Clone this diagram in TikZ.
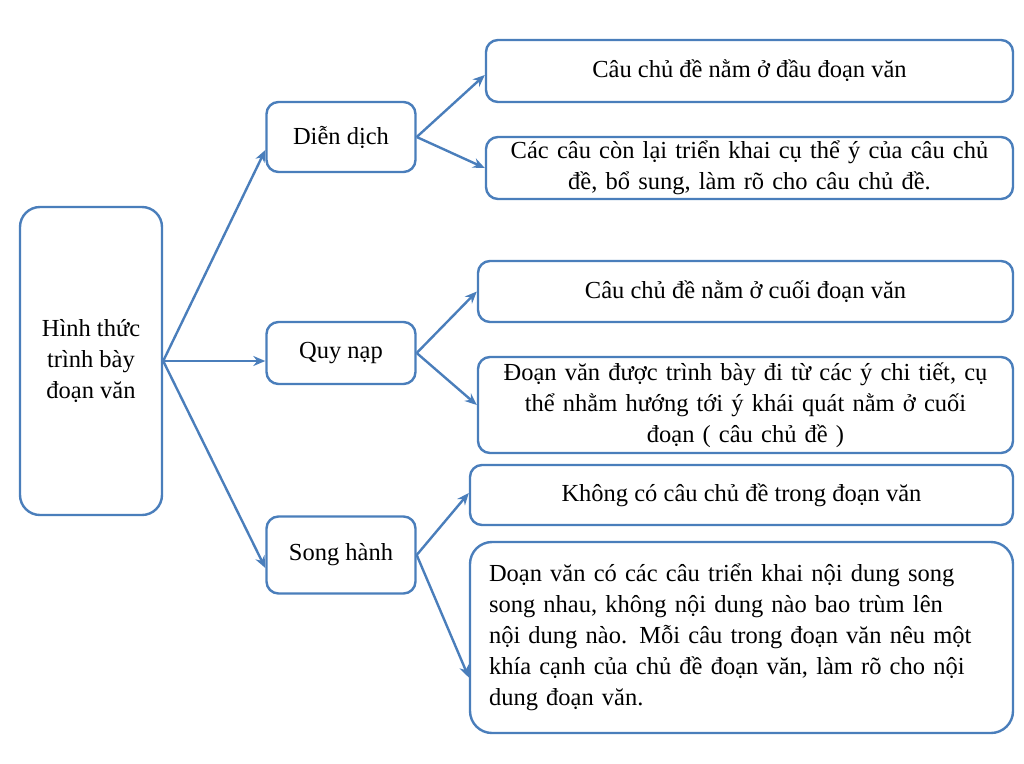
\documentclass[tikz,border=0pt]{standalone}
\usepackage{fontspec}
\setmainfont{Liberation Serif}
\usetikzlibrary{arrows.meta}
\begin{document}
\begin{tikzpicture}[x=1pt,y=-1pt,
  bx/.style={draw=blueline,line width=2.4pt,rounded corners=12pt,fill=white,inner sep=0pt,font=\fontsize{24.5}{31}\selectfont,align=center},
  ar/.style={draw=blueline,line width=2.4pt,-{Stealth[length=12pt,width=10pt]}}]
\definecolor{blueline}{HTML}{4A7EBB}
\useasboundingbox (0,0) rectangle (1024,763);
\node[bx,minimum width=142pt,minimum height=308pt,rounded corners=20pt] (root) at (91,361) {Hình thức\\trình bày\\đoạn văn};
\node[bx,minimum width=149pt,minimum height=70pt] (dd) at (341,137) {Diễn dịch};
\node[bx,minimum width=149pt,minimum height=62pt] (qn) at (341,353) {Quy nạp};
\node[bx,minimum width=149pt,minimum height=77pt] (sh) at (341,555) {Song hành};
\node[bx,minimum width=527pt,minimum height=62pt] (r1) at (749.5,71) {Câu chủ đề nằm ở đầu đoạn văn};
\node[bx,minimum width=527pt,minimum height=62pt,text width=515pt] (r2) at (749.5,168) {Các câu còn lại triển khai cụ thể ý của câu chủ\\đề, bổ sung, làm rõ cho câu chủ đề.};
\node[bx,minimum width=535pt,minimum height=61pt] (r3) at (745.5,291.5) {Câu chủ đề nằm ở cuối đoạn văn};
\node[bx,minimum width=535pt,minimum height=96pt,text width=525pt] (r4) at (745.5,405) {Đoạn văn được trình bày đi từ các ý chi tiết, cụ\\thể nhằm hướng tới ý khái quát nằm ở cuối\\đoạn ( câu chủ đề )};
\node[bx,minimum width=543pt,minimum height=60pt] (r5) at (741.5,495) {Không có câu chủ đề trong đoạn văn};
\node[bx,minimum width=543pt,minimum height=191pt,text width=505pt,align=left,rounded corners=22pt] (r6) at (741.5,637.5) {Doạn văn có các câu triển khai nội dung song\\song nhau, không nội dung nào bao trùm lên\\nội dung nào. Mỗi câu trong đoạn văn nêu một\\khía cạnh của chủ đề đoạn văn, làm rõ cho nội\\dung đoạn văn.};
\draw[ar] (root.east) -- ([yshift=-13pt]dd.west);
\draw[ar] (root.east) -- ([yshift=-8pt]qn.west);
\draw[ar] (root.east) -- ([yshift=-13pt]sh.west);
\draw[ar] (dd.east) -- ([yshift=-4pt]r1.west);
\draw[ar] (dd.east) -- (r2.west);
\draw[ar] (qn.east) -- (r3.west);
\draw[ar] (qn.east) -- (r4.west);
\draw[ar] (sh.east) -- ([yshift=2pt]r5.west);
\draw[ar] (sh.east) -- ([yshift=-40pt]r6.west);
\end{tikzpicture}
\end{document}
